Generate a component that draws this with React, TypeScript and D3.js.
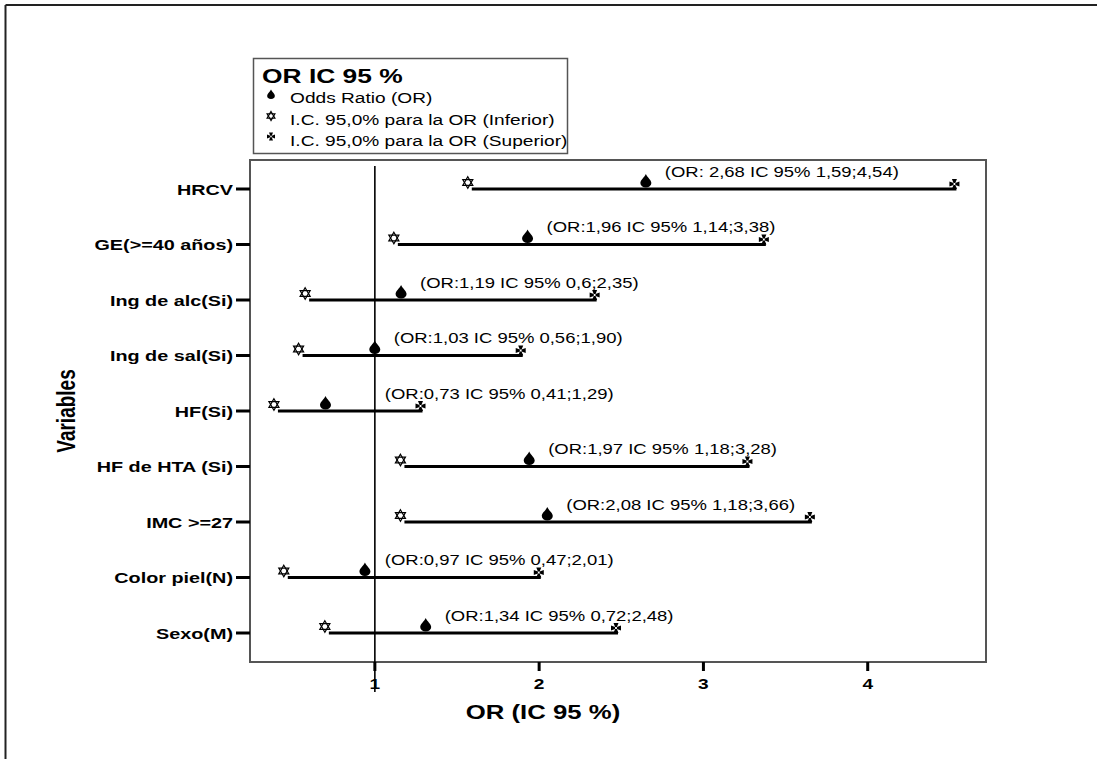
import React from "react";
import * as d3 from "d3";

const categories = [
  "HRCV",
  "GE(>=40 años)",
  "Ing de alc(Si)",
  "Ing de sal(Si)",
  "HF(Si)",
  "HF de HTA (Si)",
  "IMC >=27",
  "Color piel(N)",
  "Sexo(M)",
];
const orValues = [2.68, 1.96, 1.19, 1.03, 0.73, 1.97, 2.08, 0.97, 1.34];
const lowerValues = [1.59, 1.14, 0.6, 0.56, 0.41, 1.18, 1.18, 0.47, 0.72];
const upperValues = [4.54, 3.38, 2.35, 1.9, 1.29, 3.28, 3.66, 2.01, 2.48];
const pointLabels = [
  "(OR: 2,68 IC 95% 1,59;4,54)",
  "(OR:1,96 IC 95% 1,14;3,38)",
  "(OR:1,19 IC 95% 0,6;2,35)",
  "(OR:1,03 IC 95% 0,56;1,90)",
  "(OR:0,73 IC 95% 0,41;1,29)",
  "(OR:1,97 IC 95% 1,18;3,28)",
  "(OR:2,08 IC 95% 1,18;3,66)",
  "(OR:0,97 IC 95% 0,47;2,01)",
  "(OR:1,34 IC 95% 0,72;2,48)",
];
const xTicks = [1, 2, 3, 4];
const referenceValue = 1;
const legendTitle = "OR IC 95 %";
const legendItems = [
  "Odds Ratio (OR)",
  "I.C. 95,0% para la OR (Inferior)",
  "I.C. 95,0% para la OR (Superior)",
];

const FONT = "'Liberation Sans', Arial, Helvetica, sans-serif";
const SX = 1.32;

const W = 1097;
const H = 759;
const plot = { left: 250, top: 160, right: 986, bottom: 662 };

function SText(props: {
  x: number;
  y: number;
  size: number;
  bold?: boolean;
  anchor?: string;
  children: React.ReactNode;
}) {
  const { x, y, size, bold, anchor, children } = props;
  return (
    <text
      transform={`translate(${x},${y}) scale(${SX},1)`}
      fontFamily={FONT}
      fontSize={size}
      fontWeight={bold ? "bold" : "normal"}
      textAnchor={anchor || "start"}
      fill="#000"
    >
      {children}
    </text>
  );
}

function Drop({ x, y, s = 1 }: { x: number; y: number; s?: number }) {
  return (
    <path
      transform={`translate(${x},${y}) scale(${s})`}
      d="M0,-13.5 C1.5,-10 5.5,-7.5 5.5,-4.5 A5.5,4.5 0 0 1 -5.5,-4.5 C-5.5,-7.5 -1.5,-10 0,-13.5 Z"
      fill="#000"
    />
  );
}

function StarOfDavid({ x, y, r = 5.8 }: { x: number; y: number; r?: number }) {
  const tri = (rot: number) =>
    d3.range(3)
      .map((i) => {
        const a = rot + (i * 2 * Math.PI) / 3;
        return `${i === 0 ? "M" : "L"}${(x + r * Math.sin(a)).toFixed(2)},${(y - r * Math.cos(a)).toFixed(2)}`;
      })
      .join(" ") + " Z";
  return (
    <g fill="none" stroke="#000" strokeWidth={1.2}>
      <path d={tri(0)} />
      <path d={tri(Math.PI)} />
    </g>
  );
}

function CrossPattee({ x, y, r = 5 }: { x: number; y: number; r?: number }) {
  const w = r * 0.5;
  const n = r * 0.18;
  const d = [
    `M${-n},${-n} L${-w},${-r} L${w},${-r} L${n},${-n} Z`,
    `M${-n},${n} L${-w},${r} L${w},${r} L${n},${n} Z`,
    `M${-n},${-n} L${-r},${-w} L${-r},${w} L${-n},${n} Z`,
    `M${n},${-n} L${r},${-w} L${r},${w} L${n},${n} Z`,
  ].join(" ");
  return (
    <g transform={`translate(${x},${y})`}>
      <path d={d} fill="#000" />
    </g>
  );
}

export default function App() {
  const x = d3.scaleLinear().domain([0.24, 4.72]).range([plot.left, plot.right]);
  const y = d3.scalePoint<string>().domain(categories).range([189, 633]);

  const refX = x(referenceValue);

  return (
    <svg
      width={W}
      height={H}
      style={{ position: "absolute", left: 0, top: 0, background: "#fff" }}
    >
      <rect x={0} y={0} width={W} height={H} fill="#fff" />
      <line x1={5.5} y1={5} x2={W} y2={5} stroke="#222" strokeWidth={2} />
      <line x1={5.5} y1={5} x2={5.5} y2={H} stroke="#222" strokeWidth={2} />

      <rect
        x={plot.left}
        y={plot.top}
        width={plot.right - plot.left}
        height={plot.bottom - plot.top}
        fill="none"
        stroke="#555"
        strokeWidth={2}
      />

      <line x1={refX} y1={plot.top + 6} x2={refX} y2={692} stroke="#000" strokeWidth={1.6} />

      {categories.map((c) => (
        <g key={c}>
          <line x1={236} x2={plot.left} y1={y(c)!} y2={y(c)!} stroke="#000" strokeWidth={3} />
          <SText x={233} y={(y(c) as number) + 5.5} size={15} bold anchor="end">
            {c}
          </SText>
        </g>
      ))}

      {xTicks.map((t) => (
        <g key={t}>
          <line x1={x(t)} x2={x(t)} y1={plot.bottom} y2={plot.bottom + 9} stroke="#000" strokeWidth={3} />
          <SText x={x(t)} y={689} size={14.5} bold anchor="middle">
            {t}
          </SText>
        </g>
      ))}

      <SText x={543} y={719} size={19.5} bold anchor="middle">
        OR (IC 95 %)
      </SText>
      <text
        transform={`translate(75,${(plot.top + plot.bottom) / 2}) scale(${SX},1) rotate(-90)`}
        fontFamily={FONT}
        fontSize={19}
        fontWeight="bold"
        textAnchor="middle"
      >
        Variables
      </text>

      {categories.map((c, i) => {
        const yy = y(c) as number;
        const lx = x(lowerValues[i]);
        const ux = x(upperValues[i]);
        const ox = x(orValues[i]);
        const labelX = Math.max(ox + 14, refX + 10);
        return (
          <g key={"s" + c}>
            <line x1={lx} x2={ux} y1={yy} y2={yy} stroke="#000" strokeWidth={3} />
            <StarOfDavid x={lx - 4} y={yy - 6.5} />
            <CrossPattee x={ux - 2} y={yy - 5} />
            <Drop x={ox - 5} y={yy - 1.5} />
            <SText x={labelX} y={yy - 12.5} size={14}>
              {pointLabels[i]}
            </SText>
          </g>
        );
      })}

      <rect x={253.5} y={58.5} width={314} height={95} fill="#fff" stroke="#555" strokeWidth={1.5} />
      <SText x={262} y={83} size={20} bold>
        {legendTitle}
      </SText>
      <Drop x={271} y={99} s={0.7} />
      <StarOfDavid x={271} y={116} r={4.5} />
      <CrossPattee x={271} y={136.5} r={4} />
      {legendItems.map((t, i) => (
        <SText key={t} x={290} y={103 + i * 21.7} size={14.5}>
          {t}
        </SText>
      ))}
    </svg>
  );
}
